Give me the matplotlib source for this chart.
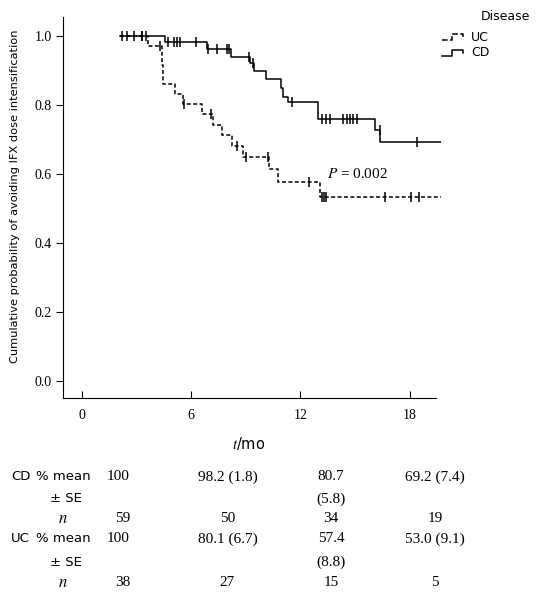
import numpy as np
import matplotlib
matplotlib.use('Agg')
import matplotlib.pyplot as plt
from matplotlib.lines import Line2D
from matplotlib.legend_handler import HandlerBase

plt.rcParams['mathtext.fontset'] = 'stix'

# Kaplan-Meier steps (time in months, survival)
cd_times = [2.09, 4.56, 6.89, 8.17, 9.23, 9.47, 10.09, 10.92, 11.06, 11.30, 12.99, 16.10, 16.40, 19.70]
cd_surv = [1.0, 0.982, 0.961, 0.940, 0.923, 0.899, 0.875, 0.850, 0.824, 0.808, 0.759, 0.727, 0.692, 0.692]
cd_censor = [2.18, 2.86, 3.28, 3.52, 4.74, 5.05, 5.24, 5.38, 6.25, 6.94, 7.40, 7.95, 8.05, 9.18, 9.41,
             11.56, 13.17, 13.41, 13.63, 14.36, 14.54, 14.73, 14.90, 15.09, 16.37, 18.43]

uc_times = [2.09, 3.65, 4.38, 4.47, 5.11, 5.57, 6.61, 7.22, 7.67, 8.22, 8.83, 10.27, 10.75, 13.10, 19.70]
uc_surv = [1.0, 0.971, 0.916, 0.861, 0.831, 0.802, 0.774, 0.741, 0.712, 0.681, 0.650, 0.614, 0.576, 0.532, 0.532]
uc_censor = [2.5, 3.3, 4.27, 5.6, 7.08, 8.53, 9.0, 10.20, 12.45, 13.17, 13.30, 13.40, 16.65, 18.10, 18.53]

x_ticks = [0, 6, 12, 18]
y_ticks = [0.0, 0.2, 0.4, 0.6, 0.8, 1.0]

# number-at-risk table
cd_mean = ['100', '98.2 (1.8)', '80.7', '69.2 (7.4)']
cd_se = ['', '', '(5.8)', '']
cd_n = ['59', '50', '34', '19']
uc_mean = ['100', '80.1 (6.7)', '57.4', '53.0 (9.1)']
uc_se = ['', '', '(8.8)', '']
uc_n = ['38', '27', '15', '5']

W, H = 539, 600
SANS = 'DejaVu Sans'
SERIF = 'Liberation Serif'


def px(x, y):
    return x / W, 1 - y / H


def level_at(times, surv, t):
    i = np.searchsorted(times, t, side='right') - 1
    return surv[i]


class StepHandler(HandlerBase):
    """legend glyph drawn as a small step"""
    def create_artists(self, legend, orig_handle, xdescent, ydescent, width, height, fontsize, trans):
        xs = np.array([0, 0.45, 0.45, 1.0, 1.0]) * width - xdescent
        ys = np.array([0.1, 0.1, 0.8, 0.8, 0.35]) * height - ydescent
        line = Line2D(xs, ys, color='black', lw=orig_handle.get_linewidth(),
                      linestyle=orig_handle.get_linestyle())
        line.set_transform(trans)
        return [line]


fig = plt.figure(figsize=(W / 100, H / 100), dpi=100, facecolor='white')
x0, x1, y0, y1 = 63, 440.7, 17, 398
ax = fig.add_axes([x0 / W, 1 - y1 / H, (x1 - x0) / W, (y1 - y0) / H])

dash = (0, (2.6, 1.6))
l_uc, = ax.step(uc_times, uc_surv, where='post', color='black', lw=1.1, linestyle=dash)
l_cd, = ax.step(cd_times, cd_surv, where='post', color='black', lw=1.1)
ax.plot(cd_censor, [level_at(cd_times, cd_surv, t) for t in cd_censor], '|', color='black', ms=6.5, mew=1.1)
ax.plot(uc_censor, [level_at(uc_times, uc_surv, t) for t in uc_censor], '|', color='black', ms=6.5, mew=1.1)

ax.set_xlim(-1.044, 19.71)
ax.set_ylim(-0.0493, 1.055)
ax.spines['top'].set_visible(False)
ax.spines['right'].set_visible(False)
ax.spines['bottom'].set_bounds(-1.044, 19.45)
ax.set_xticks(x_ticks)
ax.set_yticks(y_ticks)
ax.set_xticklabels([str(v) for v in x_ticks], family=SERIF, fontsize=10)
ax.set_yticklabels(['%.1f' % v for v in y_ticks], family=SERIF, fontsize=10)
ax.tick_params(axis='x', direction='in', length=5, pad=8)
ax.tick_params(axis='y', direction='out', length=5, pad=3)

ax.text(13.45, 0.6, '$P$ = 0.002', family=SERIF, fontsize=11, va='center')

leg = ax.legend([l_uc, l_cd], ['UC', 'CD'], handler_map={Line2D: StepHandler()},
                loc='upper left', bbox_to_anchor=px(442, 31), bbox_transform=fig.transFigure,
                frameon=False, prop={'family': SANS, 'size': 9}, handlelength=1.7,
                handletextpad=0.6, labelspacing=0.2, borderpad=0, borderaxespad=0)
fig.text(*px(481, 16), 'Disease', family=SANS, fontsize=9, va='center')

fig.text(*px(15, 196), 'Cumulative probability of avoiding IFX dose intensification',
         family=SANS, fontsize=8.2, rotation=90, ha='center', va='center')
fig.text(*px(249, 443), '$t$/mo', family=SANS, fontsize=10.5, ha='center', va='center')

# table below the axis
rows = [('CD', '% mean', cd_mean, 477), (None, '\u00b1 SE', cd_se, 499), (None, '$n$', cd_n, 519),
        ('UC', '% mean', uc_mean, 539), (None, '\u00b1 SE', uc_se, 562), (None, '$n$', uc_n, 583)]
col_x = [130, 227.5, 331, 435]
for group, label, vals, y in rows:
    if group:
        fig.text(*px(11, y), group, family=SANS, fontsize=9.5, va='center')
    if label == '% mean':
        fig.text(*px(36, y), label, family=SANS, fontsize=9.5, va='center')
    elif label.startswith('$'):
        fig.text(*px(63, y), label, family=SERIF, fontsize=12, va='center', ha='center')
    else:
        fig.text(*px(50, y), label, family=SANS, fontsize=9.5, va='center')
    for i, v in enumerate(vals):
        if not v:
            continue
        ha = 'right' if i == 0 else 'center'
        fig.text(*px(col_x[i], y), v, family=SERIF, fontsize=11, va='center', ha=ha)

fig.savefig('out.png', dpi=100, facecolor='white')
